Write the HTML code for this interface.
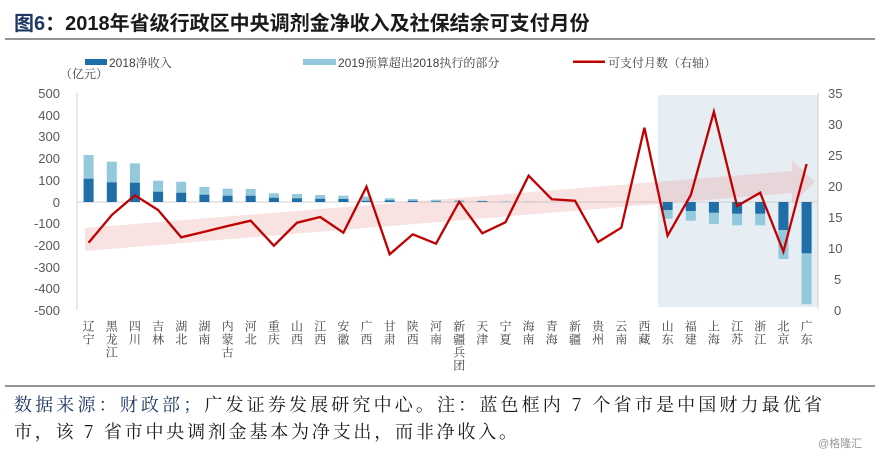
<!DOCTYPE html>
<html><head><meta charset="utf-8"><style>
body{margin:0;background:#fff;}
svg{display:block;font-family:"Liberation Sans","Noto Sans CJK SC",sans-serif;}
.ax{font-size:13px;fill:#595959;}
.xl{font-size:12px;fill:#404040;writing-mode:vertical-rl;letter-spacing:1px;font-family:"Noto Serif CJK SC","Noto Sans CJK SC",serif;}
.lg{font-size:12px;fill:#404040;font-family:"Liberation Sans","Noto Serif CJK SC",serif;}
</style></head><body>
<svg width="880" height="456" viewBox="0 0 880 456" xmlns="http://www.w3.org/2000/svg">
<text x="14" y="30" font-size="20" font-weight="bold" fill="#1a1a1a" font-family="Liberation Sans,Noto Sans CJK SC,sans-serif"><tspan fill="#1f3864">图6</tspan>：2018年省级行政区中央调剂金净收入及社保结余可支付月份</text>
<line x1="5" y1="39" x2="875" y2="39" stroke="#555" stroke-width="1.2"/>
<rect x="85" y="59" width="22" height="6" fill="#1f6ea8"/><text class="lg" x="109" y="67">2018净收入</text>
<rect x="303" y="59" width="33" height="6" fill="#92c9dc"/><text class="lg" x="338" y="67">2019预算超出2018执行的部分</text>
<rect x="573" y="60.5" width="32" height="2.5" fill="#c00000"/><text class="lg" x="608" y="67">可支付月数（右轴）</text>
<text class="lg" x="60" y="78">（亿元）</text>
<rect x="658" y="95" width="160" height="212" fill="#e6eef4"/>
<line x1="77" y1="93" x2="77" y2="310" stroke="#d0d0d0"/>
<line x1="818" y1="93" x2="818" y2="310" stroke="#d0d0d0"/>
<line x1="77" y1="202" x2="818" y2="202" stroke="#d0d0d0"/>
<g class="ax" text-anchor="end">
<text x="60" y="98">500</text><text x="60" y="120">400</text><text x="60" y="141">300</text><text x="60" y="163">200</text><text x="60" y="185">100</text><text x="60" y="207">0</text><text x="60" y="228">-100</text><text x="60" y="250">-200</text><text x="60" y="272">-300</text><text x="60" y="293">-400</text><text x="60" y="315">-500</text>
</g>
<g class="ax">
<text x="828" y="98">35</text><text x="828" y="129">30</text><text x="828" y="160">25</text><text x="828" y="191">20</text><text x="828" y="222">15</text><text x="828" y="253">10</text><text x="834" y="284">5</text><text x="834" y="315">0</text>
</g>
<polygon points="85,228 792,171 792,160 815,182 792,204 792,193 85,251" fill="#e8a0a0" fill-opacity="0.3"/>
<g fill="#92c9dc">
<rect x="83.6" y="155" width="10" height="23.7"/>
<rect x="106.8" y="161.7" width="10" height="20.6"/>
<rect x="129.9" y="163.3" width="10" height="19.4"/>
<rect x="153.1" y="180.7" width="10" height="11"/>
<rect x="176.2" y="181.7" width="10" height="11"/>
<rect x="199.4" y="187" width="10" height="7.7"/>
<rect x="222.6" y="188.7" width="10" height="7"/>
<rect x="245.7" y="189" width="10" height="6.7"/>
<rect x="268.9" y="193.3" width="10" height="4.4"/>
<rect x="292" y="194" width="10" height="4.3"/>
<rect x="315.2" y="195" width="10" height="3.7"/>
<rect x="338.4" y="195.7" width="10" height="3.3"/>
<rect x="361.5" y="196.5" width="10" height="4.2"/>
<rect x="384.7" y="198.3" width="10" height="2"/>
<rect x="407.8" y="199" width="10" height="1.7"/>
<rect x="431" y="199.8" width="10" height="1.6"/>
<rect x="454.2" y="200.3" width="10" height="1.3"/>
<rect x="477.3" y="200.7" width="10" height="0.5"/>
<rect x="500.5" y="201.1" width="10" height="0.7"/>
<rect x="523.6" y="201.3" width="10" height="0.5"/>
<rect x="662.6" y="210" width="10" height="8.7"/>
<rect x="685.8" y="211" width="10" height="9.7"/>
<rect x="708.9" y="212.7" width="10" height="11.3"/>
<rect x="732.1" y="213.7" width="10" height="11.6"/>
<rect x="755.2" y="213.7" width="10" height="11.6"/>
<rect x="778.4" y="230" width="10" height="29"/>
<rect x="801.6" y="253.3" width="10" height="51"/>
</g>
<g fill="#1f6ea8">
<rect x="83.6" y="178.7" width="10" height="23.3"/>
<rect x="106.8" y="182.3" width="10" height="19.7"/>
<rect x="129.9" y="182.7" width="10" height="19.3"/>
<rect x="153.1" y="191.7" width="10" height="10.3"/>
<rect x="176.2" y="192.7" width="10" height="9.3"/>
<rect x="199.4" y="194.7" width="10" height="7.3"/>
<rect x="222.6" y="195.7" width="10" height="6.3"/>
<rect x="245.7" y="195.7" width="10" height="6.3"/>
<rect x="268.9" y="197.7" width="10" height="4.3"/>
<rect x="292" y="198.3" width="10" height="3.7"/>
<rect x="315.2" y="198.7" width="10" height="3.3"/>
<rect x="338.4" y="199" width="10" height="3"/>
<rect x="361.5" y="200.7" width="10" height="1.3"/>
<rect x="384.7" y="200.3" width="10" height="1.7"/>
<rect x="407.8" y="200.7" width="10" height="1.3"/>
<rect x="431" y="201.4" width="10" height="0.6"/>
<rect x="454.2" y="201.6" width="10" height="0.4"/>
<rect x="477.3" y="201.2" width="10" height="0.8"/>
<rect x="662.6" y="202" width="10" height="8"/>
<rect x="685.8" y="202" width="10" height="9"/>
<rect x="708.9" y="202" width="10" height="10.7"/>
<rect x="732.1" y="202" width="10" height="11.7"/>
<rect x="755.2" y="202" width="10" height="11.7"/>
<rect x="778.4" y="202" width="10" height="28"/>
<rect x="801.6" y="202" width="10" height="51.3"/>
</g>
<polyline fill="none" stroke="#c00000" stroke-width="2.3" stroke-linejoin="miter" points="88.6,242.7 111.8,215 134.9,195.3 158.1,210 181.2,237.3 204.4,231.7 227.6,226 250.7,220.7 273.9,245.7 297,222.7 320.2,217 343.4,232.7 366.5,186.7 389.7,254.3 412.8,234.3 436,243.7 459.2,201.7 482.3,233.3 505.5,222.3 528.6,175.7 551.8,199.3 575,200.7 598.1,242 621.3,227.7 644.4,127.7 667.6,235.7 690.8,195 713.9,111.7 737.1,206 760.2,192.7 783.4,251.7 806.6,164"/>
<g class="xl">
<text x="88.6" y="320">辽宁</text><text x="111.8" y="320">黑龙江</text><text x="134.9" y="320">四川</text><text x="158.1" y="320">吉林</text><text x="181.2" y="320">湖北</text><text x="204.4" y="320">湖南</text><text x="227.6" y="320">内蒙古</text><text x="250.7" y="320">河北</text><text x="273.9" y="320">重庆</text><text x="297" y="320">山西</text><text x="320.2" y="320">江西</text><text x="343.4" y="320">安徽</text><text x="366.5" y="320">广西</text><text x="389.7" y="320">甘肃</text><text x="412.8" y="320">陕西</text><text x="436" y="320">河南</text><text x="459.2" y="320">新疆兵团</text><text x="482.3" y="320">天津</text><text x="505.5" y="320">宁夏</text><text x="528.6" y="320">海南</text><text x="551.8" y="320">青海</text><text x="575" y="320">新疆</text><text x="598.1" y="320">贵州</text><text x="621.3" y="320">云南</text><text x="644.4" y="320">西藏</text><text x="667.6" y="320">山东</text><text x="690.8" y="320">福建</text><text x="713.9" y="320">上海</text><text x="737.1" y="320">江苏</text><text x="760.2" y="320">浙江</text><text x="783.4" y="320">北京</text><text x="806.6" y="320">广东</text>
</g>
<line x1="5" y1="386" x2="875" y2="386" stroke="#555" stroke-width="1.2"/>
<g font-size="18" font-family="Noto Serif CJK SC,Liberation Serif,serif" fill="#1a1a1a">
<text x="14" y="411" textLength="808" lengthAdjust="spacing"><tspan fill="#1f3864">数据来源：财政部；</tspan>广发证券发展研究中心。注：蓝色框内 7 个省市是中国财力最优省</text>
<text x="14" y="438" textLength="503" lengthAdjust="spacing">市，该 7 省市中央调剂金基本为净支出，而非净收入。</text>
</g>
<text x="818" y="447" font-size="11" fill="#999">@格隆汇</text>
</svg>
</body></html>
